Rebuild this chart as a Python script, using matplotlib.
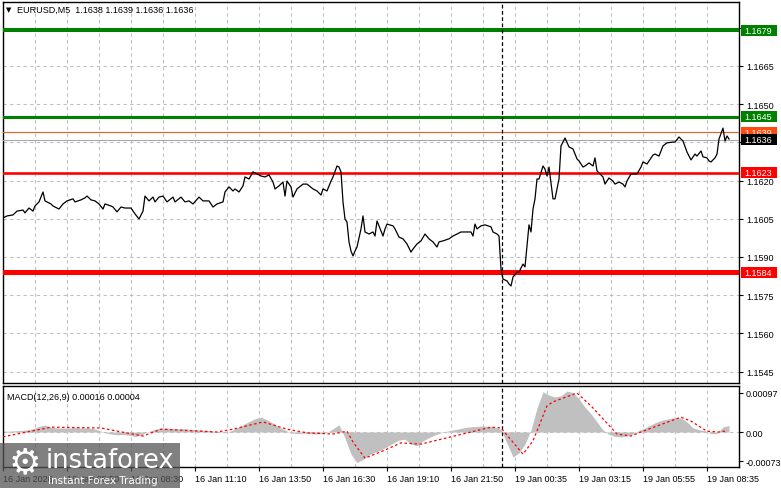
import numpy as np
import matplotlib.pyplot as plt
from matplotlib.patches import Rectangle

plt.rcParams['font.family'] = ['Liberation Sans', 'DejaVu Sans']

# EURUSD M5 close prices (bar index -> price)
price_bars = [0, 2, 5, 7, 10, 11, 13, 15, 16, 18, 20, 21, 24, 25, 28, 30, 32, 35, 36, 39,
              41, 42, 44, 46, 48, 50, 51, 54, 55, 57, 59, 61, 64, 66, 68, 70, 71, 73, 75, 76,
              78, 80, 82, 85, 86, 89, 91, 93, 95, 98, 100, 103, 105, 107, 110, 111, 113, 115, 116, 118,
              120, 121, 123, 125, 127, 129, 131, 133, 135, 136, 138, 140, 141, 142, 144, 145, 147, 150, 152, 155,
              157, 159, 160, 162, 164, 165, 167, 168, 169, 170, 171, 172, 173, 174, 175, 176, 177, 179, 180, 181,
              183, 185, 186, 187, 188, 190, 191, 192, 195, 196, 198, 200, 202, 204, 205, 207, 209, 211, 213, 215,
              217, 218, 220, 223, 225, 227, 229, 231, 234, 235, 236, 237, 239, 241, 244, 245, 247, 248, 249, 250,
              252, 253, 254, 255, 257, 258, 260, 261, 262, 263, 264, 265, 266, 267, 268, 270, 271, 272, 273, 275,
              276, 278, 279, 281, 283, 285, 287, 288, 290, 291, 293, 295, 296, 297, 299, 300, 301, 303, 305, 306,
              308, 310, 311, 312, 314, 315, 317, 319, 320, 322, 325, 326, 328, 330, 332, 335, 336, 338, 340, 342,
              344, 346, 347, 349, 350, 352, 353, 354, 356, 357, 358, 360, 361, 362, 363]
price_close = [1.16053, 1.16061, 1.16065, 1.16080, 1.16084, 1.16073, 1.16092, 1.16080, 1.16100, 1.16116,
               1.16155, 1.16120, 1.16108, 1.16100, 1.16088, 1.16108, 1.16120, 1.16128, 1.16116, 1.16124,
               1.16132, 1.16139, 1.16124, 1.16120, 1.16108, 1.16088, 1.16108, 1.16100, 1.16096, 1.16077,
               1.16096, 1.16092, 1.16092, 1.16069, 1.16049, 1.16080, 1.16139, 1.16120, 1.16135, 1.16116,
               1.16135, 1.16139, 1.16116, 1.16135, 1.16116, 1.16135, 1.16116, 1.16120, 1.16108, 1.16135,
               1.16120, 1.16120, 1.16096, 1.16108, 1.16116, 1.16155, 1.16175, 1.16159, 1.16167, 1.16155,
               1.16179, 1.16214, 1.16206, 1.16234, 1.16226, 1.16218, 1.16214, 1.16222, 1.16194, 1.16167,
               1.16179, 1.16194, 1.16139, 1.16198, 1.16175, 1.16135, 1.16167, 1.16186, 1.16186, 1.16167,
               1.16159, 1.16143, 1.16167, 1.16159, 1.16198, 1.16214, 1.16257, 1.16253, 1.16234, 1.16116,
               1.16049, 1.16037, 1.15959, 1.15923, 1.15904, 1.15923, 1.15939, 1.16010, 1.16061, 1.15998,
               1.15990, 1.15998, 1.15982, 1.16041, 1.16022, 1.15982, 1.16010, 1.16029, 1.16022, 1.16010,
               1.15978, 1.15971, 1.15951, 1.15919, 1.15931, 1.15951, 1.15963, 1.15990, 1.15971, 1.15959,
               1.15939, 1.15959, 1.15963, 1.15971, 1.15982, 1.15990, 1.15998, 1.15998, 1.15998, 1.15982,
               1.16029, 1.16010, 1.16022, 1.16026, 1.16018, 1.15998, 1.15990, 1.15982, 1.15853, 1.15813,
               1.15806, 1.15794, 1.15786, 1.15821, 1.15841, 1.15841, 1.15872, 1.15861, 1.15943, 1.16026,
               1.15998, 1.16088, 1.16128, 1.16206, 1.16206, 1.16257, 1.16245, 1.16218, 1.16253, 1.16128,
               1.16128, 1.16206, 1.16336, 1.16367, 1.16332, 1.16324, 1.16285, 1.16277, 1.16253, 1.16257,
               1.16269, 1.16257, 1.16289, 1.16238, 1.16222, 1.16214, 1.16186, 1.16210, 1.16198, 1.16186,
               1.16194, 1.16186, 1.16175, 1.16198, 1.16226, 1.16226, 1.16226, 1.16253, 1.16273, 1.16265,
               1.16300, 1.16304, 1.16296, 1.16336, 1.16348, 1.16351, 1.16351, 1.16371, 1.16355, 1.16312,
               1.16281, 1.16304, 1.16296, 1.16316, 1.16293, 1.16289, 1.16277, 1.16273, 1.16289, 1.16304,
               1.16363, 1.16406, 1.16355, 1.16375, 1.16363]

# MACD histogram, one value every 3 bars, in units of 1e-5
hist_bars = list(range(0, 364, 3))
hist_e5 = [2, 2, 3, 4, 5, 8, 14, 17, 12, 10,
           10, 10, 11, 10, 10, 9, 4, -2, -5, -7,
           -6, -8, -11, -8, 0, 5, 9, 10, 9, 8,
           8, 7, 6, 5, 4, 2, -1, -2, 3, 10,
           18, 26, 33, 37, 30, 22, 12, 5, -2, -4,
           -3, -4, -5, -4, -1, 8, 18, -15, -55, -76,
           -68, -57, -50, -45, -36, -28, -20, -18, -30, -34,
           -22, -14, -7, -2, 2, 5, 8, 11, 13, 14,
           15, 14, 12, 6, -28, -62, -52, -30, 5, 60,
           100, 92, 87, 90, 102, 98, 82, 62, 45, 25,
           5, -6, -11, -12, -10, -5, 4, 10, 18, 25,
           30, 33, 36, 35, 25, 10, 6, 3, -4, -4,
           13, 16]

# MACD signal line
signal_bars = [0, 15, 24, 49, 70, 79, 107, 115, 130, 142, 152, 165, 172, 175, 181, 190, 199, 209,
               224, 244, 249, 260, 265, 272, 275, 287, 294, 307, 314, 320, 339, 344, 352, 358, 362]
signal_vals = [-0.00012, 0.00003, 0.00012, 0.00010, -0.00010, 0.00007, 0.0, 0.00007, 0.00025, 0.00007,
               -0.00002, -0.00005, 0.00002, -0.00025, -0.00065, -0.00047, -0.00027, -0.00030,
               -0.00012, 0.00012, 0.00010, -0.00055, -0.00022, 0.00065, 0.00075, 0.00097, 0.00065,
               -0.00005, -0.00010, 0.00002, 0.00037, 0.00027, 0.00002, 0.0, 0.00003]

# horizontal levels
green_levels = [1.1679, 1.1645]
red_levels = [1.1623, 1.1584]
ask_price = 1.1639
bid_price = 1.1636

price_ticks = [1.1545, 1.1560, 1.1575, 1.1590, 1.1605, 1.1620, 1.1635, 1.1650, 1.1665, 1.1680]
price_tick_labels = ['1.1545', '1.1560', '1.1575', '1.1590', '1.1605', '1.1620', '', '1.1650', '1.1665', '']
macd_ticks = [0.00097, 0.0, -0.00073]
macd_tick_labels = ['0.00097', '0.00', '-0.00073']
time_labels = ['16 Jan 2026', '16 Jan 05:50', '16 Jan 08:30', '16 Jan 11:10', '16 Jan 13:50',
               '16 Jan 16:30', '16 Jan 19:10', '16 Jan 21:50', '19 Jan 00:35', '19 Jan 03:15',
               '19 Jan 05:55', '19 Jan 08:35']
time_bars = list(range(0, 353, 32))
weekend_bar = 249.5

W, H = 781, 489
fs = 6.5
grid_kw = dict(color='#c0c0c0', linestyle=(0, (3, 3)), linewidth=0.8)

fig = plt.figure(figsize=(W / 100, H / 100), dpi=100)
ax = fig.add_axes([3 / W, 1 - 384 / H, 736 / W, 381 / H])
ax2 = fig.add_axes([3 / W, 1 - 468 / H, 736 / W, 81 / H])

# price panel
ax.plot(price_bars, price_close, color='black', lw=0.9, zorder=4)
ax.set_xlim(0, 368)
ax.set_ylim(1.15405, 1.16901)
ax.set_xticks(range(0, 369, 16))
ax.tick_params(axis='x', length=0, labelbottom=False)
ax.yaxis.tick_right()
ax.set_yticks(price_ticks)
ax.set_yticklabels(price_tick_labels)
ax.tick_params(axis='y', length=3, width=0.8, pad=2, labelsize=fs, colors='black')
ax.grid(True, **grid_kw)
ax.set_axisbelow(True)

for lv, lw in zip(green_levels, [2.9, 2.2]):
    ax.axhline(lv, color='#008000', lw=lw, zorder=3)
for lv, lw in zip(red_levels, [1.9, 3.6]):
    ax.axhline(lv, color='#ff0000', lw=lw, zorder=3)
ax.axhline(ask_price, color='#f05a28', lw=0.8, zorder=3)
ax.axhline(bid_price, color='#a8a8a8', lw=0.8, zorder=3)
ax.axvline(weekend_bar, color='black', lw=0.9, linestyle=(0, (3, 2)), zorder=3)

# right-hand price boxes
box_h = 0.00043
tr = ax.get_yaxis_transform()
boxes = [(1.1679, '#008000', 'white'), (1.1645, '#008000', 'white'),
         (ask_price, '#ff4a10', 'white'), (bid_price, 'black', 'white'),
         (1.1623, '#ff0000', 'white'), (1.1584, '#ff0000', 'white')]
for i, (p, fc, tc) in enumerate(boxes):
    ax.add_patch(Rectangle((1.0025, p - box_h / 2), 0.0495, box_h, transform=tr,
                           facecolor=fc, edgecolor='none', clip_on=False, zorder=10 + i))
    ax.text(1.0075, p, f'{p:.4f}', transform=tr, color=tc, fontsize=fs, va='center',
            ha='left', clip_on=False, zorder=10 + i)

for s in ax.spines.values():
    s.set_linewidth(1)

# MACD panel
ax2.fill_between(hist_bars, 0, np.array(hist_e5) * 1e-5, color='#c0c0c0', linewidth=0, zorder=2)
ax2.plot(signal_bars, signal_vals, color='red', lw=0.9, linestyle=(0, (2, 2)), zorder=4)
ax2.axvline(weekend_bar, color='black', lw=0.9, linestyle=(0, (3, 2)), zorder=3)
ax2.set_xlim(0, 368)
ax2.set_ylim(-0.00087, 0.001144)
ax2.set_xticks(time_bars)
ax2.set_xticklabels(time_labels)
ax2.set_xticks(range(0, 369, 16), minor=True)
ax2.tick_params(axis='x', which='major', length=3, width=0.8, pad=2, labelsize=fs)
ax2.tick_params(axis='x', which='minor', length=0)
for lbl in ax2.get_xticklabels():
    lbl.set_horizontalalignment('left')
ax2.yaxis.tick_right()
ax2.set_yticks(macd_ticks)
ax2.set_yticklabels(macd_tick_labels)
ax2.tick_params(axis='y', length=3, width=0.8, pad=2, labelsize=fs)
ax2.grid(True, axis='x', which='both', **grid_kw)
ax2.axhline(0, zorder=1, **grid_kw)
ax2.set_axisbelow(True)
for s in ax2.spines.values():
    s.set_linewidth(1)

# overlay in pixel coordinates for header texts and watermark
ov = fig.add_axes([0, 0, 1, 1], zorder=20)
ov.set_xlim(0, W)
ov.set_ylim(H, 0)
ov.axis('off')
ov.text(6, 10, '\u25bc', fontsize=5, va='center', ha='left', family='DejaVu Sans')
ov.text(17, 10, 'EURUSD,M5  1.1638 1.1639 1.1636 1.1636', fontsize=fs, va='center', ha='left')
ov.text(7, 397, 'MACD(12,26,9) 0.00016 0.00004', fontsize=fs, va='center', ha='left')

ov.add_patch(Rectangle((0, 444), 180, 45, facecolor='#555555', alpha=0.75, edgecolor='none'))
ov.text(25, 463, '\u2699', fontsize=26, color='white', va='center', ha='center',
        family='DejaVu Sans')
ov.text(46, 461, 'instaforex', fontsize=18.5, color='white', va='center', ha='left',
        family='DejaVu Sans')
ov.text(48, 481, 'Instant Forex Trading', fontsize=7.5, color='white', va='center', ha='left',
        family='DejaVu Sans')

fig.savefig('out.png', dpi=100)
